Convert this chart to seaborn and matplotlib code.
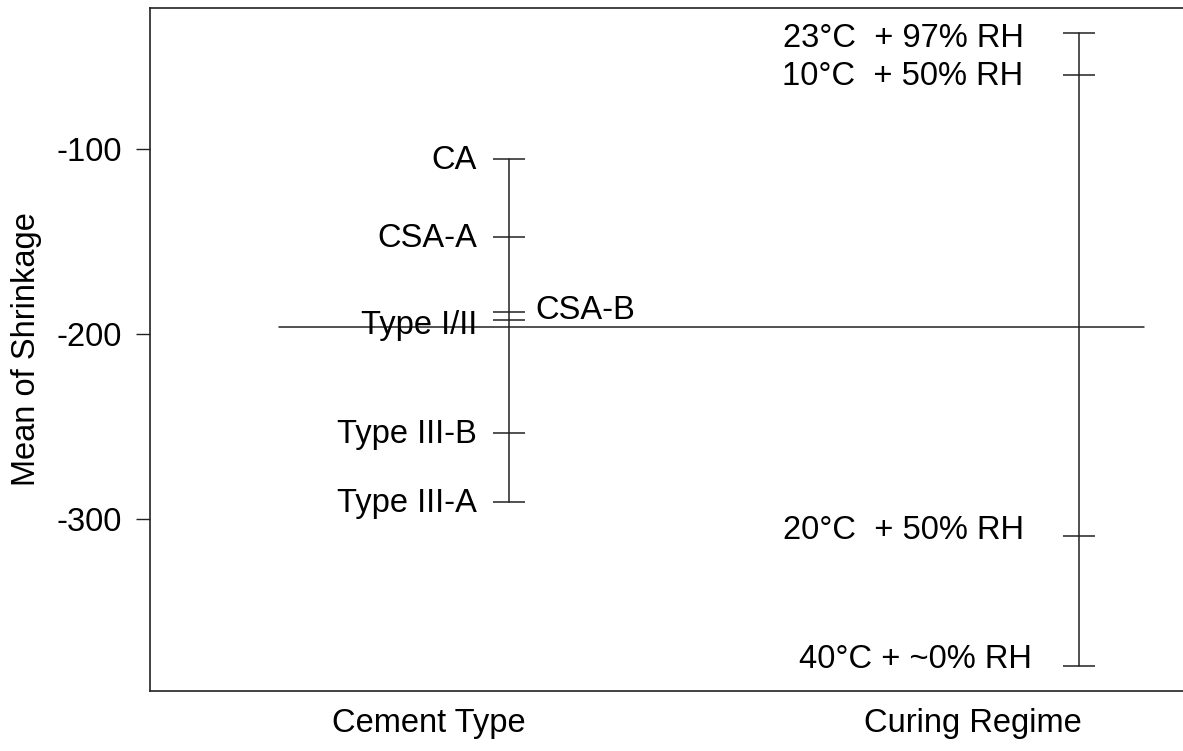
import matplotlib
matplotlib.use("Agg")
import matplotlib.pyplot as plt
import seaborn as sns
import pandas as pd

# Daliniai vidurkiai (nuskaityti nuo paveikslo)
cement_types = ["CA", "CSA-A", "CSA-B", "Type I/II", "Type III-B", "Type III-A"]
cement_means = [-105.6, -147.7, -188.3, -192.6, -253.8, -291.1]

curing_regimes = ["23°C  + 97% RH", "10°C  + 50% RH", "20°C  + 50% RH", "40°C + ~0% RH"]
curing_means = [-37.5, -60.2, -309.2, -379.6]

factors = ["Cement Type", "Curing Regime"]
grand_mean = -196.5

# Išdėstymas (ne duomenys)
bar_x = {"Cement Type": 0.147, "Curing Regime": 1.195}
cement_offsets = [(-23, -1), (-23, -1), (19, 1), (-23, -4), (-23, -1), (-23, -1)]
curing_offsets = [(-40, -4), (-40, -1), (-40, 4), (-34, 5)]

sns.set_theme(style="white")
plt.rcParams["font.family"] = ["Liberation Sans", "DejaVu Sans"]
plt.rcParams["text.color"] = "black"
plt.rcParams["axes.labelcolor"] = "black"
plt.rcParams["xtick.color"] = "black"
plt.rcParams["ytick.color"] = "black"
FS = 23.5
INK = "#222222"

rows = []
for name, val in zip(cement_types, cement_means):
    rows.append({"factor": "Cement Type", "level": name, "mean": val})
for name, val in zip(curing_regimes, curing_means):
    rows.append({"factor": "Curing Regime", "level": name, "mean": val})
df = pd.DataFrame(rows)
df["x"] = df["factor"].map(bar_x)

fig = plt.figure(figsize=(11.83, 7.51), dpi=100)
ax = fig.add_axes([150 / 1183, 1 - 691 / 751, 1 - 150 / 1183, (691 - 7.5) / 751])

# vertikalios linijos tarp mažiausio ir didžiausio vidurkio
sns.lineplot(data=df, x="x", y="mean", units="factor", estimator=None,
             orient="y", sort=True, color=INK, lw=1.1, ax=ax, legend=False)
# horizontalūs brūkšneliai kiekvienam lygiui
sns.scatterplot(data=df, x="x", y="mean", marker="_", s=560, color=INK,
                linewidth=1.1, ax=ax, legend=False, zorder=3)

# bendras vidurkis
ax.plot([-0.276, 1.314], [grand_mean, grand_mean], color=INK, lw=1.1)

sub = df[df["factor"] == "Cement Type"].reset_index(drop=True)
for i, r in sub.iterrows():
    dx, dy = cement_offsets[i]
    ax.annotate(r["level"], (r["x"], r["mean"]), xytext=(dx, dy),
                textcoords="offset points", ha="right" if dx < 0 else "left",
                va="center", fontsize=FS, color="black")
sub = df[df["factor"] == "Curing Regime"].reset_index(drop=True)
for i, r in sub.iterrows():
    dx, dy = curing_offsets[i]
    ax.annotate(r["level"], (r["x"], r["mean"]), xytext=(dx, dy),
                textcoords="offset points", ha="right", va="center",
                fontsize=FS, color="black")

ax.set_xlim(-0.513, 1.386)
ax.set_ylim(-393.1, -23.7)
ax.set_yticks([-100, -200, -300])
ax.set_yticklabels(["-100", "-200", "-300"], fontsize=FS)
ax.set_xticks([0, 1])
ax.set_xticklabels(factors, fontsize=FS)
ax.tick_params(axis="y", direction="out", length=10, width=1, color=INK, pad=10, left=True)
ax.tick_params(axis="x", length=0, pad=12)
ax.set_xlabel("")
ax.set_ylabel("Mean of Shrinkage", fontsize=FS)
ax.yaxis.set_label_coords(-0.1045, 0.5)

for side in ["left", "top", "bottom"]:
    ax.spines[side].set_color(INK)
    ax.spines[side].set_linewidth(1.2)
ax.spines["right"].set_visible(False)

fig.savefig("out.png", dpi=100)
